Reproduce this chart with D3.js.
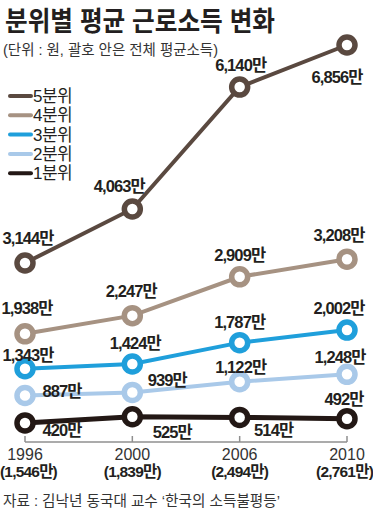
<!DOCTYPE html>
<html>
<head>
<meta charset="utf-8">
<script src="https://cdn.jsdelivr.net/npm/d3@7"></script>
<style>
  body { margin: 0; background: #fff; }
  svg { display: block; }
  text { font-family: "Liberation Sans", "Noto Sans CJK KR", sans-serif; }
</style>
</head>
<body>
<div></div>
<script>
var years = ["1996", "2000", "2006", "2010"],
	averages = ["(1,546만)", "(1,839만)", "(2,494만)", "(2,761만)"],
	seriesNames = ["5분위", "4분위", "3분위", "2분위", "1분위"],
	q5 = [3144, 4063, 6140, 6856],
	q4 = [1938, 2247, 2909, 3208],
	q3 = [1343, 1424, 1787, 2002],
	q2 = [887, 939, 1122, 1248],
	q1 = [420, 525, 514, 492];

var seriesValues = [q5, q4, q3, q2, q1];

var colors = ["#5a4940", "#a69282", "#1f9fdb", "#a9c9e9", "#231815"];

// label offsets from the point (text centre), per series
var labelOffsets = [
	[[3, -25], [-13, -23], [1, -22], [-10, 32]],
	[[2, -26], [-1, -24], [0, -22], [-8, -24]],
	[[3, -14], [3, -21], [0, -20], [-8, -22]],
	[[37, -4], [35, -12], [1, -14], [-7, -17]],
	[[37, 7], [40, 15], [34, 13], [-3, -19]]
];

var width = 373, height = 519;

var svg = d3.select("div")
	.append("svg")
	.attr("width", width)
	.attr("height", height);

var x = d3.scalePoint().domain(years).range([25, 347]);
var y = d3.scaleLinear().domain([0, 6856]).range([447.6, 45]);

function fmt(v) {
	return d3.format(",")(v) + "만";
}

// title
svg.append("text")
	.attr("x", 5)
	.attr("y", 31)
	.attr("font-size", 27)
	.attr("font-weight", "bold")
	.attr("fill", "#231f20")
	.attr("textLength", 270)
	.attr("lengthAdjust", "spacingAndGlyphs")
	.text("분위별 평균 근로소득 변화");

svg.append("text")
	.attr("x", 3)
	.attr("y", 55)
	.attr("font-size", 14.5)
	.attr("fill", "#333")
	.attr("textLength", 215)
	.attr("lengthAdjust", "spacingAndGlyphs")
	.text("(단위 : 원, 괄호 안은 전체 평균소득)");

// axis
svg.append("line")
	.attr("x1", x(years[0])).attr("x2", x(years[3]))
	.attr("y1", 442).attr("y2", 442)
	.attr("stroke", "#8f8f8f").attr("stroke-width", 1.5);

years.forEach(function(yr, i) {
	svg.append("line")
		.attr("x1", x(yr)).attr("x2", x(yr))
		.attr("y1", 436).attr("y2", 442)
		.attr("stroke", "#8f8f8f").attr("stroke-width", 1.5);

	svg.append("text")
		.attr("x", x(yr))
		.attr("y", 460)
		.attr("text-anchor", "middle")
		.attr("font-size", 16)
		.attr("fill", "#333")
		.text(yr);

	var t = svg.append("text")
		.attr("y", 477)
		.attr("text-anchor", "middle")
		.attr("font-size", 15.5)
		.attr("font-weight", "bold")
		.attr("fill", "#231f20")
		.attr("letter-spacing", -0.8)
		.text(averages[i]);
	var w = t.node().getComputedTextLength();
	t.attr("x", Math.max(w / 2, Math.min(width - w / 2, x(yr))));
});

// lines, bottom series first
var line = d3.line()
	.x(function(d, i) { return x(years[i]); })
	.y(function(d) { return y(d); });

for (var s = seriesValues.length - 1; s >= 0; s--) {
	svg.append("path")
		.datum(seriesValues[s])
		.attr("d", line)
		.attr("fill", "none")
		.attr("stroke", colors[s])
		.attr("stroke-width", s === 4 ? 5 : 4);

	svg.selectAll(".pt" + s)
		.data(seriesValues[s])
		.enter().append("circle")
		.attr("cx", function(d, i) { return x(years[i]); })
		.attr("cy", function(d) { return y(d); })
		.attr("r", 8)
		.attr("fill", "#fff")
		.attr("stroke", colors[s])
		.attr("stroke-width", 5.5);
}

// value labels
seriesValues.forEach(function(vals, s) {
	vals.forEach(function(v, i) {
		svg.append("text")
			.attr("x", x(years[i]) + labelOffsets[s][i][0])
			.attr("y", y(v) + labelOffsets[s][i][1])
			.attr("dy", "0.35em")
			.attr("text-anchor", "middle")
			.attr("font-size", 16.5)
			.attr("font-weight", "bold")
			.attr("fill", "#231f20")
			.attr("letter-spacing", -0.9)
			.text(fmt(v));
	});
});

// legend
seriesNames.forEach(function(name, i) {
	var ly = 96 + i * 19.3;
	svg.append("line")
		.attr("x1", 10).attr("x2", 31)
		.attr("y1", ly).attr("y2", ly)
		.attr("stroke", colors[i])
		.attr("stroke-width", 4)
		.attr("stroke-linecap", "round");
	svg.append("text")
		.attr("x", 33)
		.attr("y", ly)
		.attr("dy", "0.36em")
		.attr("font-size", 17)
		.attr("fill", "#231f20")
		.attr("letter-spacing", -0.5)
		.text(name);
});

// source
svg.append("text")
	.attr("x", 3)
	.attr("y", 506)
	.attr("font-size", 15)
	.attr("fill", "#333")
	.attr("textLength", 277)
	.attr("lengthAdjust", "spacingAndGlyphs")
	.text("자료 : 김낙년 동국대 교수 ‘한국의 소득불평등’");
</script>
</body>
</html>
